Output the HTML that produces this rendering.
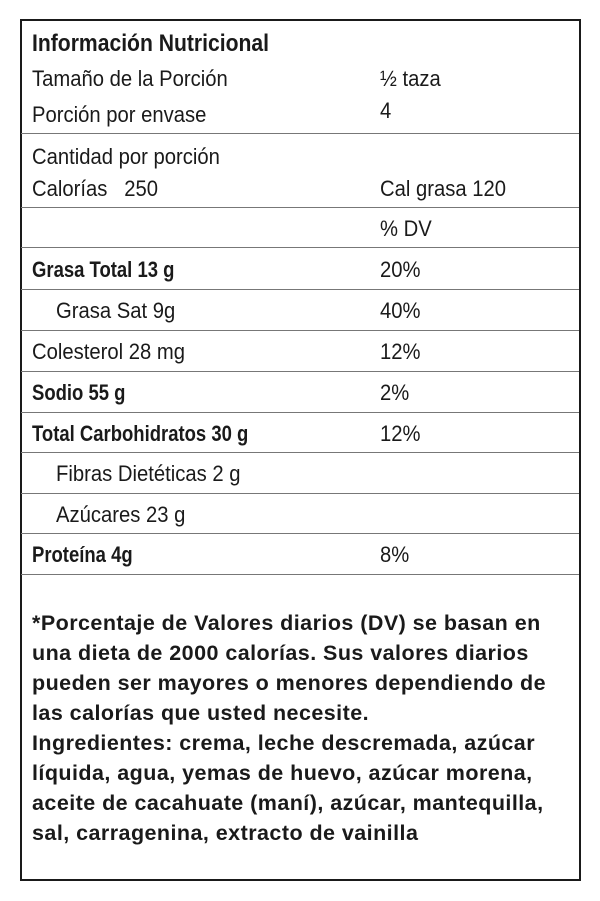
<!DOCTYPE html>
<html><head><meta charset="utf-8"><style>
body{margin:0;width:600px;height:901px;background:#fff;position:relative;font-family:"Liberation Sans",sans-serif;color:#1a1a1a;overflow:hidden}
.box{position:absolute;left:20px;top:19px;width:557px;height:858px;border:2px solid #1a1a1a}
.hl{position:absolute;left:21px;width:558px;height:1px;background:#777}
.t{position:absolute;white-space:nowrap;font-size:22px;transform:scaleX(0.92);transform-origin:left center;line-height:24px}
.b{font-weight:bold;transform:scaleX(0.84)}
.f{position:absolute;left:32px;white-space:nowrap;font-size:21.5px;letter-spacing:0.45px;font-weight:bold;line-height:30px;top:608px}
</style></head><body>
<div class="box"></div>
<div class="hl" style="top:133px"></div>
<div class="hl" style="top:207px"></div>
<div class="hl" style="top:247px"></div>
<div class="hl" style="top:289px"></div>
<div class="hl" style="top:330px"></div>
<div class="hl" style="top:371px"></div>
<div class="hl" style="top:412px"></div>
<div class="hl" style="top:452px"></div>
<div class="hl" style="top:493px"></div>
<div class="hl" style="top:533px"></div>
<div class="hl" style="top:574px"></div>

<div class="t b" style="left:32px;top:32px;font-size:24px;transform:scaleX(0.88)">Información Nutricional</div>
<div class="t" style="left:32px;top:67px">Tamaño de la Porción</div>
<div class="t" style="left:380px;top:67px">½ taza</div>
<div class="t" style="left:32px;top:103px">Porción por envase</div>
<div class="t" style="left:380px;top:99px">4</div>
<div class="t" style="left:32px;top:145px">Cantidad por porción</div>
<div class="t" style="left:32px;top:177px">Calorías&nbsp;&nbsp;&nbsp;250</div>
<div class="t" style="left:380px;top:177px">Cal grasa 120</div>
<div class="t" style="left:380px;top:217px">% DV</div>
<div class="t b" style="left:32px;top:258px">Grasa Total 13 g</div>
<div class="t" style="left:380px;top:258px">20%</div>
<div class="t" style="left:56px;top:299px">Grasa Sat 9g</div>
<div class="t" style="left:380px;top:299px">40%</div>
<div class="t" style="left:32px;top:340px">Colesterol 28 mg</div>
<div class="t" style="left:380px;top:340px">12%</div>
<div class="t b" style="left:32px;top:381px">Sodio 55 g</div>
<div class="t" style="left:380px;top:381px">2%</div>
<div class="t b" style="left:32px;top:422px">Total Carbohidratos 30 g</div>
<div class="t" style="left:380px;top:422px">12%</div>
<div class="t" style="left:56px;top:462px">Fibras Dietéticas 2 g</div>
<div class="t" style="left:56px;top:503px">Azúcares 23 g</div>
<div class="t b" style="left:32px;top:543px">Proteína 4g</div>
<div class="t" style="left:380px;top:543px">8%</div>

<div class="f">*Porcentaje de Valores diarios (DV) se basan en<br>una dieta de 2000 calorías. Sus valores diarios<br>pueden ser mayores o menores dependiendo de<br>las calorías que usted necesite.<br>Ingredientes: crema, leche descremada, azúcar<br>líquida, agua, yemas de huevo, azúcar morena,<br>aceite de cacahuate (maní), azúcar, mantequilla,<br>sal, carragenina, extracto de vainilla</div>
</body></html>
